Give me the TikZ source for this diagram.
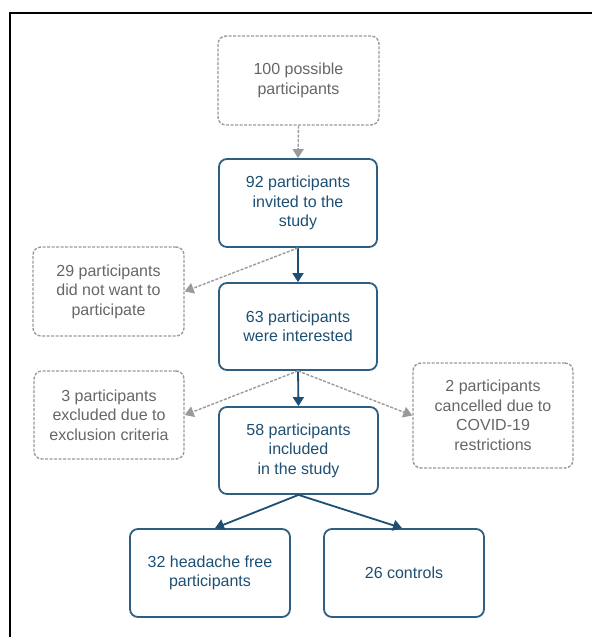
\documentclass[tikz,border=0pt]{standalone}
\usepackage{fontspec}
\setmainfont{Liberation Sans}
\usetikzlibrary{arrows.meta}
\definecolor{dblue}{HTML}{1D4F73}
\definecolor{bblue}{HTML}{2E5F80}
\definecolor{dgray}{HTML}{9A9A9A}
\definecolor{tgray}{HTML}{666666}
\tikzset{
  solidbox/.style={draw=bblue, line width=1.8pt, rounded corners=8pt, align=center,
    text=dblue, font=\fontsize{16}{19.5}\selectfont, inner sep=0pt},
  dashbox/.style={draw=dgray, line width=1.4pt, dash pattern=on 3pt off 1.5pt, rounded corners=8pt,
    align=center, text=tgray, font=\fontsize{16}{19.5}\selectfont, inner sep=0pt},
  solidarrow/.style={draw=dblue, line width=1.8pt, -{Triangle[length=9pt,width=11pt]}},
  dasharrow/.style={draw=dgray, line width=1.4pt, dash pattern=on 3pt off 1.5pt, -{Triangle[length=9pt,width=11pt]}},
}
\begin{document}
\begin{tikzpicture}[x=1pt,y=-1pt]
\useasboundingbox (0,0) rectangle (592,637);
\draw[line width=2.8pt] (10,637) -- (10,13) -- (592,13);
\node[dashbox, minimum width=161pt, minimum height=89pt] (b100) at (298.5,80.5) {100 possible\\participants};
\node[solidbox, minimum width=158pt, minimum height=88pt] (b92) at (298,203) {92 participants\\invited to the\\study};
\node[dashbox, minimum width=151pt, minimum height=89pt] (b29) at (108.5,291.5) {29 participants\\did not want to\\participate};
\node[solidbox, minimum width=158pt, minimum height=87pt] (b63) at (298,326.5) {63 participants\\were interested};
\node[dashbox, minimum width=150pt, minimum height=88pt] (b3) at (109,415) {3 participants\\excluded due to\\exclusion criteria};
\node[dashbox, minimum width=160pt, minimum height=105pt] (b2) at (493,415.5) {2 participants\\cancelled due to\\COVID-19\\restrictions};
\node[solidbox, minimum width=159pt, minimum height=87pt] (b58) at (298.5,450.5) {58 participants\\included\\in the study};
\node[solidbox, minimum width=160pt, minimum height=88pt] (b32) at (210,573) {32 headache free\\participants};
\node[solidbox, minimum width=160pt, minimum height=88pt] (b26) at (404,573) {26 controls};
\draw[dasharrow] (b100.south) -- (b92.north);
\draw[solidarrow] (b92.south) -- (b63.north);
\draw[dasharrow] (b92.south) -- (b29.east);
\draw[solidarrow] (b63.south) -- (b58.north);
\draw[dasharrow] (b63.south) -- (b3.east);
\draw[dasharrow] (b63.south) -- (b2.west);
\draw[solidarrow] (b58.south) -- ([xshift=5pt]b32.north);
\draw[solidarrow] (b58.south) -- ([xshift=-2pt]b26.north);
\end{tikzpicture}
\end{document}
